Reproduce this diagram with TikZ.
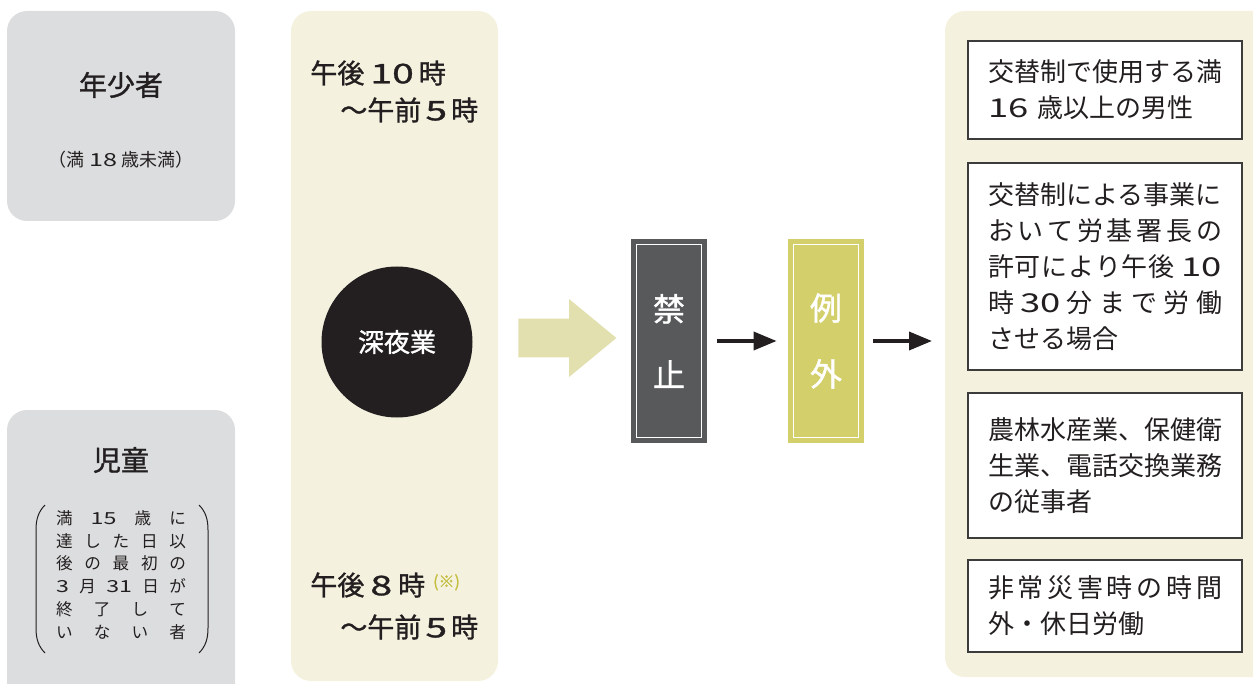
\documentclass[tikz,border=0pt]{standalone}
\usepackage{fontspec}
\setmainfont{Noto Sans CJK JP}
\newfontfamily\medfont[FakeBold=1.2]{Noto Sans CJK JP}
\newfontfamily\digfont[FakeStretch=1.4]{Noto Sans CJK JP}
\newfontfamily\digmedfont[FakeStretch=1.45, FakeBold=1.2]{Noto Sans CJK JP}
\newcommand\dg[1]{{\digfont #1}}
\newcommand\dgm[1]{{\digmedfont #1}}
\usetikzlibrary{shapes.arrows, arrows.meta}

\definecolor{graybg}{RGB}{220,221,222}
\definecolor{creambg}{RGB}{244,242,223}
\definecolor{palearrow}{RGB}{227,224,175}
\definecolor{kinshi}{RGB}{88,89,91}
\definecolor{reigai}{RGB}{211,207,107}
\definecolor{ink}{RGB}{35,31,32}
\definecolor{note}{RGB}{196,190,64}
\definecolor{frame}{RGB}{60,60,60}

\begin{document}
\begin{tikzpicture}[x = 0.5pt, y = -0.5pt,
		lbl/.style = {inner sep=0pt, text=ink, font=\medfont\fontsize{13.5pt}{18pt}\selectfont},
		ttl/.style = {inner sep=0pt, text=ink, font=\medfont\fontsize{14pt}{16pt}\selectfont},
		tall/.style = {minimum width=38pt, minimum height=102pt, inner sep=0pt, text=white, align=center, font=\medfont\fontsize{16pt}{33pt}\selectfont},
		rbox/.style = {draw=frame, line width=0.6pt, fill=white, minimum width=137pt, inner xsep=10pt, text width=117pt, align=left, text=ink, font=\fontsize{13pt}{18pt}\selectfont},
		arr/.style = {draw=ink, line width=1.8pt, -{Triangle[length=11.5pt, width=9pt]}}]
		
		\useasboundingbox (0,0) rectangle (1253,684);
		\clip (0,0) rectangle (1253,684);
		
		\fill[graybg, rounded corners=10pt] (7,11) rectangle (235,221);
		\fill[graybg, rounded corners=10pt] (7,410) rectangle (235,720);
		\fill[creambg, rounded corners=10pt] (291,11) rectangle (498,681);
		\fill[creambg, rounded corners=10pt] (945,11) rectangle (1300,677);
		
		\node (yng) at (121,85) [ttl] {年少者};
		\node (yngs) at (121,160) [inner sep=0pt, text=ink, font=\fontsize{9pt}{10pt}\selectfont] {（満 \dg{18} 歳未満）};
		\node (kid) at (121,460) [ttl] {児童};
		\node (kids) at (121,575) [inner sep=0pt, text=ink, align=left, font=\fontsize{8.3pt}{11.4pt}\selectfont] {
			\makebox[65pt][s]{満\hfill \dg{15}\hfill 歳\hfill に}\\
			\makebox[65pt][s]{達\hfill し\hfill た\hfill 日\hfill 以}\\
			\makebox[65pt][s]{後\hfill の\hfill 最\hfill 初\hfill の}\\
			\makebox[65pt][s]{\dg{3}\hfill 月\hfill \dg{31}\hfill 日\hfill が}\\
			\makebox[65pt][s]{終\hfill 了\hfill し\hfill て}\\
			\makebox[65pt][s]{い\hfill な\hfill い\hfill 者}};
		\draw[ink, line width=0.5pt] (45,505) .. controls (38,512) and (36,520) .. (36,530) -- (36,628) .. controls (36,638) and (38,646) .. (45,653);
		\draw[ink, line width=0.5pt] (199,505) .. controls (206,512) and (208,520) .. (208,530) -- (208,628) .. controls (208,638) and (206,646) .. (199,653);
		
		\node (t1) at (310,73) [lbl, anchor=west] {午後\hspace{3pt}\dgm{10}\hspace{2.5pt}時};
		\node (t2) at (340,110) [lbl, anchor=west] {～午前\hspace{2pt}\dgm{5}\hspace{2pt}時};
		\node (t3) at (310,585) [lbl, anchor=west] {午後\hspace{3pt}\dgm{8}\hspace{3pt}時\hspace{4pt}\raisebox{4pt}{\textcolor{note}{\fontsize{8pt}{8pt}\selectfont(※)}}};
		\node (t4) at (340,627) [lbl, anchor=west] {～午前\hspace{2pt}\dgm{5}\hspace{2pt}時};
		\node (c0) at (397,342) [circle, fill=ink, minimum size=75.5pt, inner sep=0pt, text=white, font=\medfont\fontsize{13pt}{13pt}\selectfont] {深夜業};
		
		\node (big) at (617,338) [single arrow, anchor=tip, fill=palearrow, inner sep=0pt, inner ysep=9.5pt, minimum height=49pt, single arrow head extend=9.75pt, single arrow tip angle=79] {};
		
		\node (k) at (669,341) [tall, fill=kinshi] {禁\\止};
		\node (r) at (826,341) [tall, fill=reigai] {例\\外};
		\draw[white, line width=0.7pt] ([shift={(6,6)}]k.north west) rectangle ([shift={(-6,-6)}]k.south east);
		\draw[white, line width=0.7pt] ([shift={(6,6)}]r.north west) rectangle ([shift={(-6,-6)}]r.south east);
		\coordinate (ex) at (945,341);
		
		\draw[arr, shorten <=5pt, shorten >=5.5pt] (k) -- (r);
		\draw[arr, shorten <=4.5pt, shorten >=6.5pt] (r) -- (ex);
		
		\node (b1) at (1105,90) [rbox, minimum height=49pt] {交替制で使用する満\\\dg{16} 歳以上の男性};
		\node (b2) at (1105,266.5) [rbox, minimum height=103.5pt] {交替制による事業に\\
			\makebox[117pt][s]{お\hfill い\hfill て\hfill 労\hfill 基\hfill 署\hfill 長\hfill の}\\
			\makebox[117pt][s]{許\hfill 可\hfill に\hfill よ\hfill り\hfill 午\hfill 後\hfill\hspace{3pt}\dg{10}}\\
			\makebox[117pt][s]{時\hfill \dg{30}\hfill 分\hfill ま\hfill で\hfill 労\hfill 働}\\
			させる場合};
		\node (b3) at (1105,465.5) [rbox, minimum height=72.5pt] {農林水産業、保健衛\\生業、電話交換業務\\の従事者};
		\node (b4) at (1105,606) [rbox, minimum height=46pt] {\makebox[117pt][s]{非\hfill 常\hfill 災\hfill 害\hfill 時\hfill の\hfill 時\hfill 間}\\外・休日労働};
	\end{tikzpicture}
\end{document}
